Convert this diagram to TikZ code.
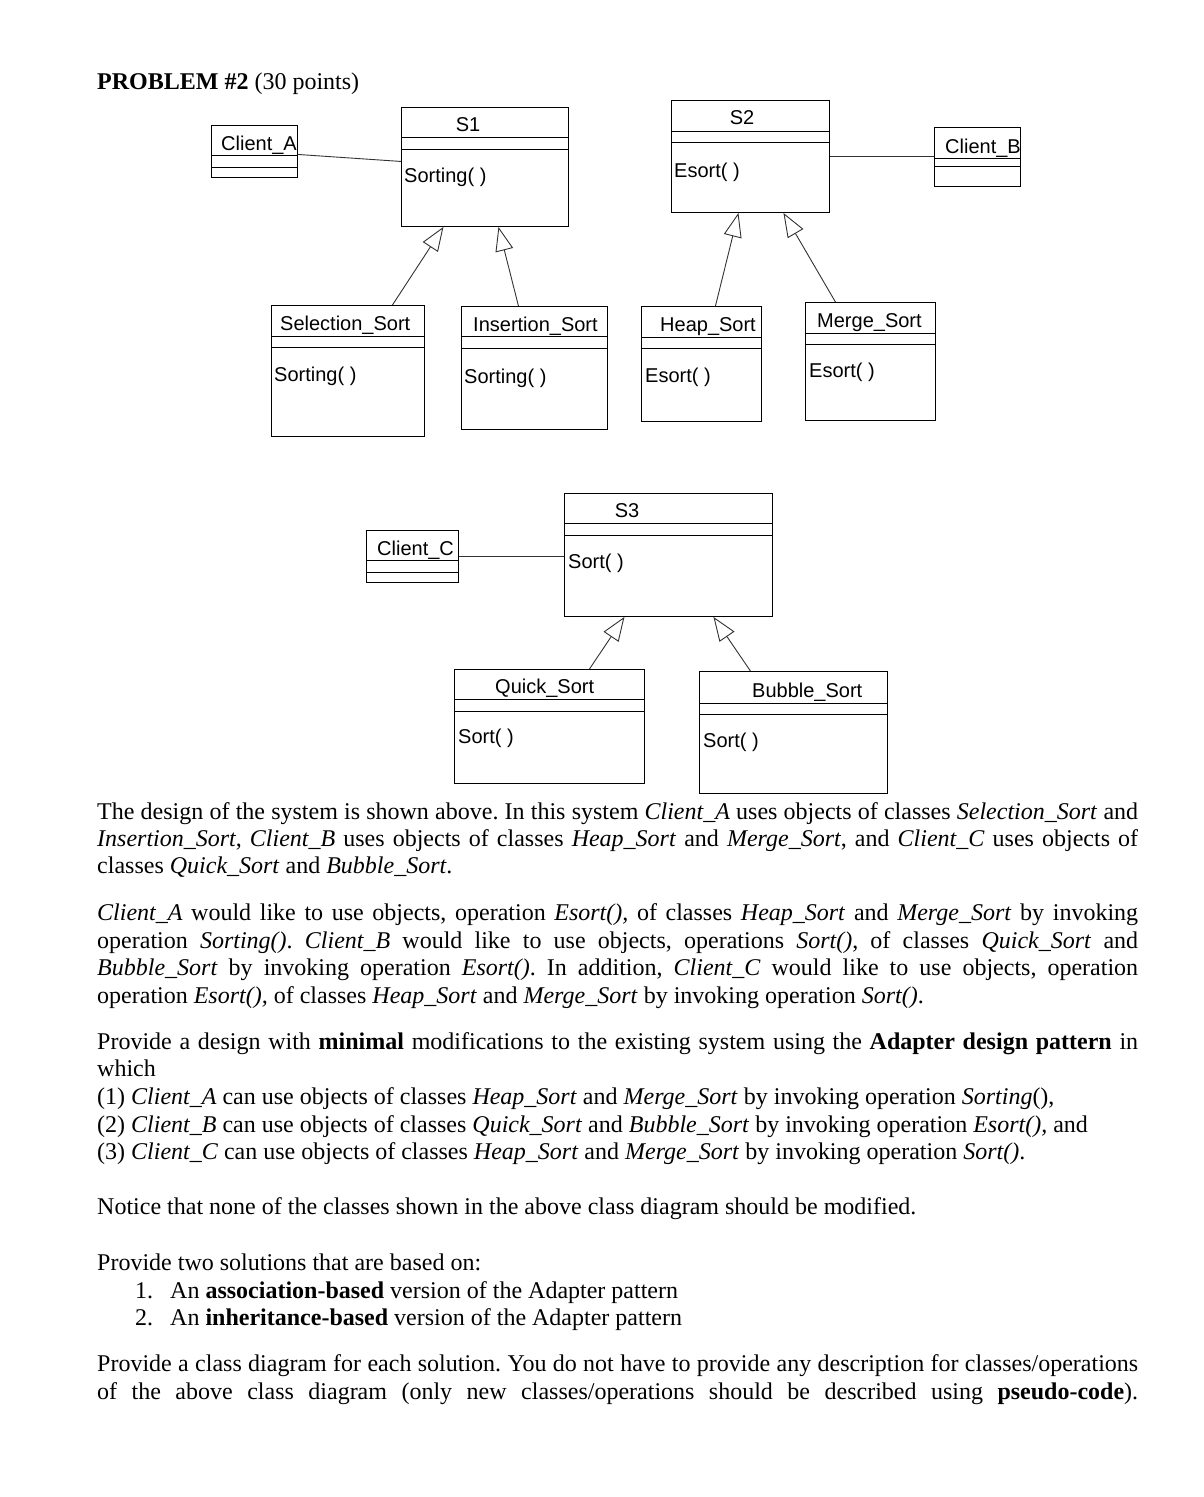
\documentclass[tikz,border=0pt]{standalone}
\usepackage{fontspec}
\setmainfont{Liberation Serif}
\newfontfamily\diagfont{Liberation Sans}
\usetikzlibrary{arrows.meta}
\frenchspacing
\tikzset{
  umlbox/.style={draw, line width=0.9pt, inner sep=0pt, anchor=north west, fill=white},
  comp/.style={line width=0.9pt},
  lbl/.style={anchor=base west, inner sep=0pt, font=\diagfont\fontsize{20}{24}\selectfont},
  clbl/.style={anchor=base, inner sep=0pt, font=\diagfont\fontsize{20}{24}\selectfont},
  assoc/.style={line width=0.9pt, draw=black!80},
  inherit/.style={line width=0.9pt, draw=black!80, -{Triangle[open, length=24pt, width=18pt, fill=white]}},
  txt/.style={anchor=base west, inner sep=0pt, font=\fontsize{24}{27.5}\selectfont\frenchspacing},
}
\newcommand{\jl}[1]{\makebox[1041pt][s]{#1}}
\newcommand{\umlclass}[7]{%
  % #1 name, #2 x1, #3 y1, #4 x2, #5 y2, #6 line1 y, #7 line2 y
  \node[umlbox, minimum width={(#4-#2)*1pt}, minimum height={(#5-#3)*1pt}] (#1) at (#2,#3) {};
  \draw[comp] (#2,#6) -- (#4,#6);
  \draw[comp] (#2,#7) -- (#4,#7);
}
\begin{document}
\begin{tikzpicture}[x=1pt, y=-1pt]
\fill[white] (0,0) rectangle (1203,1497);
\useasboundingbox (0,0) rectangle (1203,1497);

% ---------------- classes ----------------
\umlclass{ca}{211}{125}{297}{177}{155}{167}
\umlclass{s1}{401}{107}{568}{226}{137}{149}
\umlclass{s2}{671}{100}{829}{212}{131}{142}
\umlclass{cb}{934}{127}{1020}{186}{158}{166}
\umlclass{sel}{271}{305}{424}{436}{336}{347}
\umlclass{ins}{461}{306}{607}{429}{336}{348}
\umlclass{heap}{641}{306}{761}{421}{337}{348}
\umlclass{merge}{805}{302}{935}{420}{333}{344}
\umlclass{cc}{366}{530}{458}{582}{560}{572}
\umlclass{s3}{564}{493}{772}{616}{523}{535}
\umlclass{quick}{454}{669}{644}{783}{699}{711}
\umlclass{bubble}{699}{671}{887}{793}{703}{714}

% labels
\node[lbl] (caN) at (221,150) {Client\_A};
\node[clbl] (s1N) at (468,131) {S1};
\node[lbl] (s1O) at (404,182) {Sorting( )};
\node[clbl] (s2N) at (742,124) {S2};
\node[lbl] (s2O) at (674,177) {Esort( )};
\node[lbl, anchor=base east] (cbN) at (1021,153) {Client\_B};
\node[lbl] (selN) at (280,330) {Selection\_Sort};
\node[lbl] (selO) at (274,381) {Sorting( )};
\node[lbl] (insN) at (473,331) {Insertion\_Sort};
\node[lbl] (insO) at (464,383) {Sorting( )};
\node[lbl] (heapN) at (660,331) {Heap\_Sort};
\node[lbl] (heapO) at (645,382) {Esort( )};
\node[lbl] (mergeN) at (817,327) {Merge\_Sort};
\node[lbl] (mergeO) at (809,377) {Esort( )};
\node[lbl] (ccN) at (377,555) {Client\_C};
\node[clbl] (s3N) at (627,517) {S3};
\node[lbl] (s3O) at (568,568) {Sort( )};
\node[lbl] (quickN) at (495,693) {Quick\_Sort};
\node[lbl] (quickO) at (458,743) {Sort( )};
\node[lbl] (bubbleN) at (752,697) {Bubble\_Sort};
\node[lbl] (bubbleO) at (703,747) {Sort( )};

% associations
\draw[assoc] ([yshift=-3pt]ca.east) -- ([yshift=5.5pt]s1.west);
\draw[assoc] (s2.east) -- (s2.east -| cb.west);
\draw[assoc] (cc.east) -- (cc.east -| s3.west);

% generalizations
\draw[inherit] ([xshift=44.5pt]sel.north) -- ([xshift=-41.5pt]s1.south);
\draw[inherit] ([xshift=-16pt]ins.north) -- ([xshift=13.5pt]s1.south);
\draw[inherit] ([xshift=14pt]heap.north) -- ([xshift=-12pt]s2.south);
\draw[inherit] ([xshift=-35pt]merge.north) -- ([xshift=33pt]s2.south);
\draw[inherit] ([xshift=40pt]quick.north) -- ([xshift=-44pt]s3.south);
\draw[inherit] ([xshift=-43pt]bubble.north) -- ([xshift=45pt]s3.south);

% ---------------- text ----------------
\node[txt] (title) at (97,89) {\textbf{PROBLEM \#2} (30 points)};

\node[txt] (p1a) at (97,819) {\jl{The design of the system is shown above. In this system \textit{Client\_A} uses objects of classes \textit{Selection\_Sort} and}};
\node[txt] (p1b) at (97,846) {\jl{\textit{Insertion\_Sort}, \textit{Client\_B} uses objects of classes \textit{Heap\_Sort} and \textit{Merge\_Sort}, and \textit{Client\_C} uses objects of}};
\node[txt] (p1c) at (97,873) {classes \textit{Quick\_Sort} and \textit{Bubble\_Sort}.};

\node[txt] (p2a) at (97,920) {\jl{\textit{Client\_A} would like to use objects, operation \textit{Esort(),} of classes \textit{Heap\_Sort} and \textit{Merge\_Sort} by invoking}};
\node[txt] (p2b) at (97,948) {\jl{operation \textit{Sorting()}. \textit{Client\_B} would like to use objects, operations \textit{Sort()}, of classes \textit{Quick\_Sort} and}};
\node[txt] (p2c) at (97,975) {\jl{\textit{Bubble\_Sort} by invoking operation \textit{Esort()}. In addition, \textit{Client\_C} would like to use objects, operation}};
\node[txt] (p2d) at (97,1003) {operation \textit{Esort(),} of classes \textit{Heap\_Sort} and \textit{Merge\_Sort} by invoking operation \textit{Sort()}.};

\node[txt] (p3a) at (97,1049) {\jl{Provide a design with \textbf{minimal} modifications to the existing system using the \textbf{Adapter design pattern} in}};
\node[txt] (p3b) at (97,1076) {which};
\node[txt] (p3c) at (97,1104) {(1) \textit{Client\_A} can use objects of classes \textit{Heap\_Sort} and \textit{Merge\_Sort} by invoking operation \textit{Sorting}(),};
\node[txt] (p3d) at (97,1132) {(2) \textit{Client\_B} can use objects of classes \textit{Quick\_Sort} and \textit{Bubble\_Sort} by invoking operation \textit{Esort(),} and};
\node[txt] (p3e) at (97,1159) {(3) \textit{Client\_C} can use objects of classes \textit{Heap\_Sort} and \textit{Merge\_Sort} by invoking operation \textit{Sort()}.};

\node[txt] (p4) at (97,1214) {Notice that none of the classes shown in the above class diagram should be modified.};

\node[txt] (p5) at (97,1270) {Provide two solutions that are based on:};
\node[txt] (n1) at (135,1298) {1.};
\node[txt] (i1) at (170,1298) {An \textbf{association-based} version of the Adapter pattern};
\node[txt] (n2) at (135,1325) {2.};
\node[txt] (i2) at (170,1325) {An \textbf{inheritance-based} version of the Adapter pattern};

\node[txt] (p6a) at (97,1371) {\jl{Provide a class diagram for each solution. You do not have to provide any description for classes/operations}};
\node[txt] (p6b) at (97,1399) {\jl{of the above class diagram (only new classes/operations should be described using \textbf{pseudo-code}).}};
\end{tikzpicture}
\end{document}
